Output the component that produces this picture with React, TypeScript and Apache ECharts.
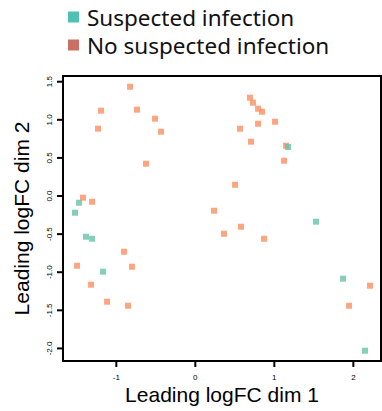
import React, { useEffect, useRef } from "react";
import * as echarts from "echarts";

const seriesNames = ["Suspected infection", "No suspected infection"];
const pointColors = ["#66C2A5", "#FC8D62"];
const legendColors = ["#4FC1B0", "#C97063"];

const suspected: number[][] = [
  [-1.472, -0.088], [-1.523, -0.219], [1.173, 0.643], [1.528, -0.337],
  [-1.384, -0.534], [-1.307, -0.561], [-1.168, -0.993], [1.87, -1.085], [2.148, -2.03],
];

const noSuspected: number[][] = [
  [-0.826, 1.434], [-1.193, 1.12], [-0.738, 1.133], [-0.51, 1.015], [-1.232, 0.884],
  [-0.434, 0.844], [-0.624, 0.424], [-1.422, -0.022], [-1.307, -0.075], [0.237, -0.193],
  [0.692, 1.29], [0.73, 1.224], [0.794, 1.146], [0.844, 1.106], [0.794, 0.949],
  [1.009, 0.975], [0.566, 0.883], [0.705, 0.713], [1.148, 0.66], [1.123, 0.463],
  [0.503, 0.148], [0.363, -0.495], [0.578, -0.403], [0.87, -0.561], [-0.903, -0.731],
  [-1.497, -0.915], [-0.802, -0.928], [-1.32, -1.164], [-1.117, -1.387], [-0.852, -1.44],
  [2.211, -1.177], [1.946, -1.44],
];

const xTicks = [-1, 0, 1, 2];
const yTicks = [1.5, 1.0, 0.5, 0.0, -0.5, -1.0, -1.5, -2.0];
const xTitle = "Leading logFC dim 1";
const yTitle = "Leading logFC dim 2";

const X_MIN = -1.675;
const X_MAX = 2.35;
const Y_MIN = -2.165;
const Y_MAX = 1.575;

export default function App() {
  const ref = useRef<HTMLDivElement>(null);
  useEffect(() => {
    if (!ref.current) return;
    const chart = echarts.init(ref.current, null, { renderer: "svg" });
    const axisFont = "Liberation Sans, Arial, sans-serif";
    chart.setOption({
      animation: false,
      backgroundColor: "#ffffff",
      grid: {
        left: 63,
        right: 1,
        top: 76,
        bottom: 50,
        outerBoundsMode: "none",
        show: true,
        borderColor: "#000",
        borderWidth: 2,
      },
      xAxis: {
        type: "value",
        min: X_MIN,
        max: X_MAX,
        name: xTitle,
        nameLocation: "middle",
        nameGap: 23,
        nameTextStyle: { fontSize: 21, fontFamily: axisFont, color: "#000" },
        axisLine: { show: true, onZero: false, lineStyle: { color: "#000", width: 2 } },
        axisTick: { show: false },
        axisLabel: { show: false },
        splitLine: { show: false },
      },
      yAxis: {
        type: "value",
        min: Y_MIN,
        max: Y_MAX,
        name: yTitle,
        nameLocation: "middle",
        nameGap: 31,
        nameTextStyle: { fontSize: 21, fontFamily: axisFont, color: "#000" },
        axisLine: { show: true, onZero: false, lineStyle: { color: "#000", width: 2 } },
        axisTick: { show: false },
        axisLabel: { show: false },
        splitLine: { show: false },
      },
      series: [
        {
          name: "frame",
          type: "line",
          silent: true,
          symbol: "none",
          clip: false,
          lineStyle: { color: "#000", width: 2 },
          data: [
            [X_MIN, Y_MIN],
            [X_MAX, Y_MIN],
            [X_MAX, Y_MAX],
            [X_MIN, Y_MAX],
            [X_MIN, Y_MIN],
          ],
        },
        {
          name: seriesNames[1],
          type: "scatter",
          symbol: "rect",
          symbolSize: 6,
          itemStyle: { color: pointColors[1] },
          data: noSuspected,
        },
        {
          name: seriesNames[0],
          type: "scatter",
          symbol: "rect",
          symbolSize: 6,
          itemStyle: { color: pointColors[0] },
          data: suspected,
        },
      ],
    });

    // Ticks, tick labels and legend; ticks placed through the chart's own scales.
    const toPx = (x: number, y: number) =>
      chart.convertToPixel({ xAxisIndex: 0, yAxisIndex: 0 }, [x, y]) as number[];
    const [l, b] = toPx(X_MIN, Y_MIN);
    const elements: any[] = [];
    const tickStyle = { stroke: "#000", lineWidth: 2 };
    const labelStyle = (text: string) => ({
      text,
      fill: "#000",
      fontSize: 8,
      fontFamily: axisFont,
      align: "center",
      verticalAlign: "middle",
    });
    xTicks.forEach((v) => {
      const [px] = toPx(v, Y_MIN);
      elements.push({ type: "line", shape: { x1: px, y1: b, x2: px, y2: b + 6 }, style: tickStyle });
      elements.push({ type: "text", x: px, y: b + 16, style: labelStyle(String(v)) });
    });
    yTicks.forEach((v) => {
      const [, py] = toPx(X_MIN, v);
      elements.push({ type: "line", shape: { x1: l - 6, y1: py, x2: l, y2: py }, style: tickStyle });
      elements.push({ type: "text", x: l - 13.5, y: py, rotation: Math.PI / 2, style: labelStyle(v.toFixed(1)) });
    });
    seriesNames.forEach((n, i) => {
      const cy = 17 + i * 28;
      elements.push({
        type: "rect",
        shape: { x: 68, y: cy - 5.5, width: 11, height: 11 },
        style: { fill: legendColors[i] },
      });
      elements.push({
        type: "text",
        x: 87,
        y: cy,
        style: {
          text: n,
          fill: "#111",
          fontSize: 22.5,
          fontFamily: "Noto Sans",
          align: "left",
          verticalAlign: "middle",
        },
      });
    });
    chart.setOption({ graphic: { elements } });
    return () => chart.dispose();
  }, []);
  return (
    <div
      ref={ref}
      style={{ position: "fixed", left: 0, top: 0, width: 382, height: 411 }}
    />
  );
}
